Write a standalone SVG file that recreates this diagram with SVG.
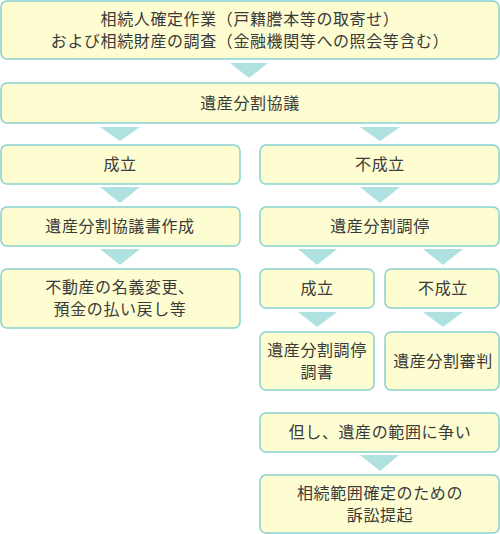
<svg xmlns="http://www.w3.org/2000/svg" width="500" height="534" viewBox="0 0 500 534">
<style>
.box{fill:#FEFDD2;stroke:#86D2CF;stroke-width:1.5}
.tri{fill:#AEE1E0}
text{font-family:"Noto Sans CJK JP","Noto Sans",sans-serif;font-size:16px;fill:#3A3A3A;text-anchor:middle;letter-spacing:0.6px}
</style>
<g id="connectors">
<polygon class="tri" points="230,63 268,63 249,78"/>
<polygon class="tri" points="100,127 140,127 120,141"/>
<polygon class="tri" points="360,127 400,127 380,141"/>
<polygon class="tri" points="100,187 140,187 120,203"/>
<polygon class="tri" points="360,187 400,187 380,203"/>
<polygon class="tri" points="100,249 140,249 120,265"/>
<polygon class="tri" points="298,249 337,249 317,265"/>
<polygon class="tri" points="423,249 463,249 443,265"/>
<polygon class="tri" points="298,312 337,312 317,327"/>
<polygon class="tri" points="423,312 463,312 443,327"/>
<polygon class="tri" points="360,455 399,455 380,471"/>
</g>
<g id="n1"><rect class="box" x="1" y="1" width="498" height="58" rx="6"/><text x="250" y="25">相続人確定作業（戸籍謄本等の取寄せ）</text><text x="250" y="47">および相続財産の調査（金融機関等への照会等含む）</text></g>
<g id="n2"><rect class="box" x="1" y="83" width="498" height="40" rx="6"/><text x="250" y="109">遺産分割協議</text></g>
<g id="n3"><rect class="box" x="1" y="145" width="239" height="39" rx="6"/><text x="120" y="170">成立</text></g>
<g id="n4"><rect class="box" x="260" y="145" width="239" height="39" rx="6"/><text x="380" y="170">不成立</text></g>
<g id="n5"><rect class="box" x="1" y="207" width="239" height="39" rx="6"/><text x="120" y="232">遺産分割協議書作成</text></g>
<g id="n6"><rect class="box" x="260" y="207" width="239" height="39" rx="6"/><text x="380" y="232">遺産分割調停</text></g>
<g id="n7"><rect class="box" x="1" y="269" width="239" height="59" rx="6"/><text x="120" y="293">不動産の名義変更、</text><text x="120" y="315">預金の払い戻し等</text></g>
<g id="n8"><rect class="box" x="260" y="269" width="114" height="39" rx="6"/><text x="317" y="294">成立</text></g>
<g id="n9"><rect class="box" x="385" y="269" width="114" height="39" rx="6"/><text x="443" y="294">不成立</text></g>
<g id="n10"><rect class="box" x="260" y="332" width="114" height="58" rx="6"/><text x="317" y="356">遺産分割調停</text><text x="317" y="378">調書</text></g>
<g id="n11"><rect class="box" x="385" y="332" width="114" height="58" rx="6"/><text x="443" y="367">遺産分割審判</text></g>
<g id="n12"><rect class="box" x="260" y="413" width="239" height="39" rx="6"/><text x="380" y="438">但し、遺産の範囲に争い</text></g>
<g id="n13"><rect class="box" x="260" y="475" width="239" height="58" rx="6"/><text x="380" y="499">相続範囲確定のための</text><text x="380" y="521">訴訟提起</text></g>
</svg>
